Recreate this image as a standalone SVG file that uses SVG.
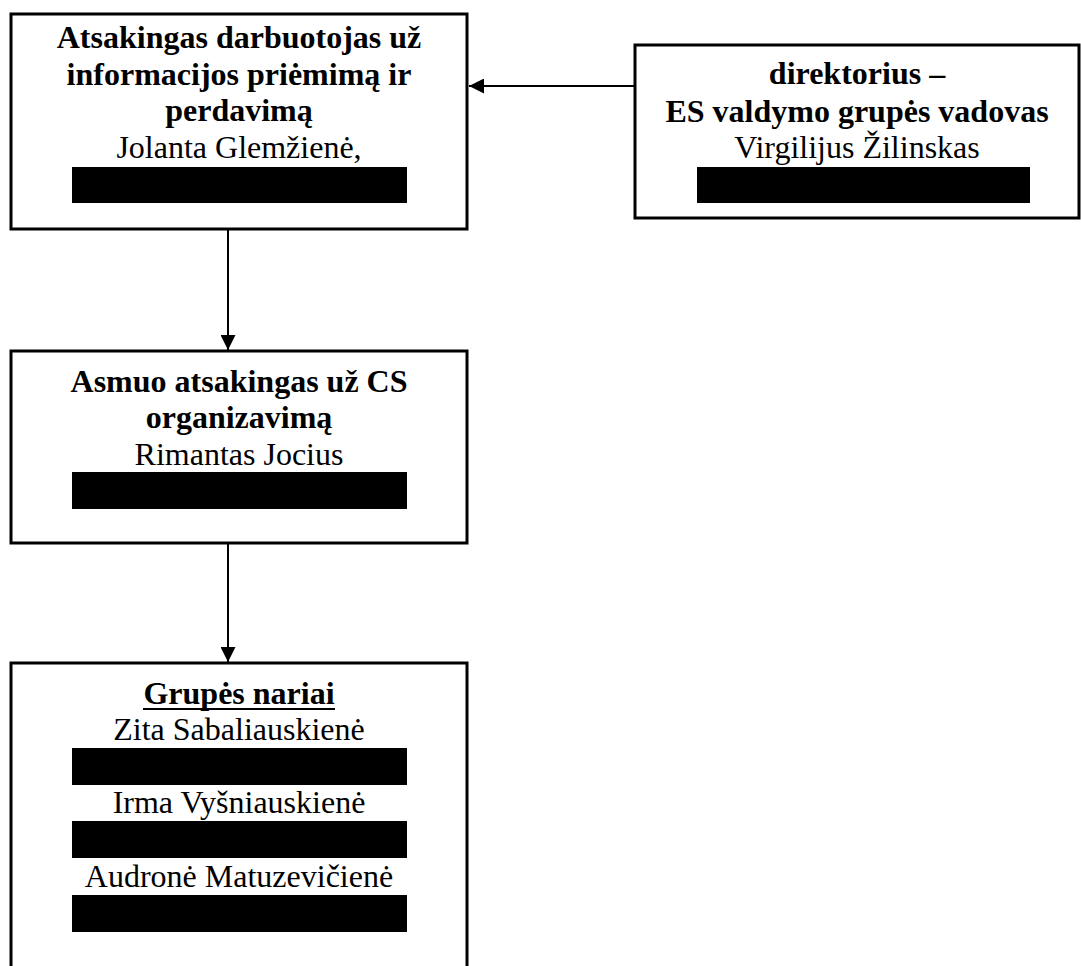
<svg xmlns="http://www.w3.org/2000/svg" width="1081" height="966" viewBox="0 0 1081 966">
  <style>
    .box { fill: #ffffff; stroke: #000000; stroke-width: 3; }
    .t { font-family: "Liberation Serif", "Times New Roman", serif; font-size: 32px; fill: #000000; text-anchor: middle; }
    .b { font-weight: bold; }
    .red { fill: #000000; }
    .conn { stroke: #000000; stroke-width: 2; fill: none; }
  </style>
  <defs>
    <marker id="arr" viewBox="0 0 15 15" refX="15" refY="7.5" markerWidth="15" markerHeight="15" orient="auto" markerUnits="userSpaceOnUse">
      <path d="M0,0 L15,7.5 L0,15 z" fill="#000000"/>
    </marker>
  </defs>
  <rect width="1081" height="966" fill="#ffffff"/>

  <g id="connectors">
    <line class="conn" x1="635" y1="86" x2="469" y2="86" marker-end="url(#arr)"/>
    <line class="conn" x1="228" y1="230" x2="228" y2="350" marker-end="url(#arr)"/>
    <line class="conn" x1="228" y1="543" x2="228" y2="662" marker-end="url(#arr)"/>
  </g>

  <g id="node-atsakingas">
    <rect class="box" x="11" y="14" width="456" height="215"/>
    <text class="t b" x="239" y="48">Atsakingas darbuotojas už</text>
    <text class="t b" x="239" y="85">informacijos priėmimą ir</text>
    <text class="t b" x="239" y="121">perdavimą</text>
    <text class="t" x="239" y="158">Jolanta Glemžienė,</text>
    <rect class="red" x="72" y="167" width="335" height="36"/>
  </g>

  <g id="node-direktorius">
    <rect class="box" x="635" y="45" width="444" height="173"/>
    <text class="t b" x="857" y="84">direktorius –</text>
    <text class="t b" x="857" y="122">ES valdymo grupės vadovas</text>
    <text class="t" x="857" y="158">Virgilijus Žilinskas</text>
    <rect class="red" x="697" y="167" width="333" height="36"/>
  </g>

  <g id="node-asmuo">
    <rect class="box" x="11" y="351" width="456" height="192"/>
    <text class="t b" x="239" y="392">Asmuo atsakingas už CS</text>
    <text class="t b" x="239" y="428">organizavimą</text>
    <text class="t" x="239" y="465">Rimantas Jocius</text>
    <rect class="red" x="72" y="472" width="335" height="37"/>
  </g>

  <g id="node-grupe">
    <path class="box" d="M11,970 V663 H467 V970"/>
    <text class="t b" x="239" y="704">Grupės nariai</text>
    <line x1="143" y1="709" x2="335" y2="709" stroke="#000000" stroke-width="2"/>
    <text class="t" x="239" y="740">Zita Sabaliauskienė</text>
    <rect class="red" x="72" y="748" width="335" height="37"/>
    <text class="t" x="239" y="813">Irma Vyšniauskienė</text>
    <rect class="red" x="72" y="821" width="335" height="37"/>
    <text class="t" x="239" y="887">Audronė Matuzevičienė</text>
    <rect class="red" x="72" y="895" width="335" height="37"/>
  </g>
</svg>
